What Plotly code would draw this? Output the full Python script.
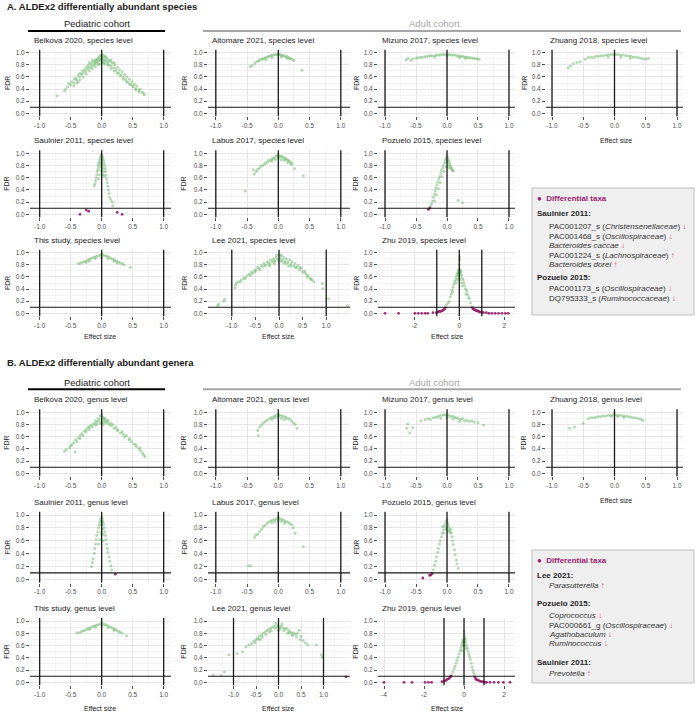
import plotly.graph_objects as go

W, H = 696, 712
FONT = "Liberation Sans, Arial, sans-serif"
GREEN = "rgba(120,190,120,0.55)"
PURPLE = "rgba(150,25,105,0.9)"
PURPLE_TXT = "#9c2170"
ARROW = "#d04a6a"

# ---------------- data: (effect size, FDR) ----------------
BELKOVA_SP = [(-0.72,0.29),(-0.60,0.37),(-0.58,0.40),(-0.55,0.44),(-0.53,0.49),(-0.50,0.47),(-0.48,0.52),(-0.45,0.50),
    (-0.44,0.56),(-0.42,0.58),(-0.40,0.55),(-0.38,0.63),(-0.36,0.60),(-0.35,0.66),(-0.33,0.64),(-0.31,0.70),(-0.30,0.66),
    (-0.28,0.72),(-0.26,0.69),(-0.25,0.76),(-0.23,0.73),(-0.22,0.79),(-0.20,0.75),(-0.18,0.81),(-0.17,0.77),(-0.15,0.84),
    (-0.14,0.79),(-0.12,0.86),(-0.11,0.81),(-0.10,0.88),(-0.08,0.83),(-0.07,0.90),(-0.06,0.85),(-0.05,0.92),(-0.04,0.81),
    (-0.03,0.94),(-0.02,0.87),(-0.01,0.96),(0.00,0.83),(0.01,0.97),(0.02,0.89),(0.03,0.93),(0.04,0.84),(0.05,0.95),
    (0.06,0.87),(0.08,0.91),(0.09,0.83),(0.11,0.88),(0.12,0.80),(0.14,0.86),(0.15,0.78),(0.17,0.83),(0.19,0.75),(0.21,0.80),
    (0.23,0.71),(0.25,0.76),(0.27,0.67),(0.29,0.72),(0.31,0.63),(0.33,0.68),(0.35,0.59),(0.37,0.64),(0.39,0.55),(0.41,0.60),
    (0.43,0.51),(0.45,0.56),(0.47,0.47),(0.49,0.52),(0.51,0.44),(0.53,0.48),(0.55,0.41),(0.57,0.45),(0.60,0.38),(0.62,0.40),
    (0.65,0.35),(0.67,0.33),(0.69,0.31),(-0.05,0.88),(0.05,0.88),(-0.1,0.84),(0.1,0.85),(0.0,0.90),
    (-0.45,0.45),(-0.40,0.50),(-0.35,0.55),(-0.30,0.60),(-0.25,0.65),(-0.20,0.70),(-0.15,0.74),(-0.10,0.77),(-0.05,0.80),
    (0.05,0.81),(0.10,0.79),(0.15,0.74),(0.20,0.70),(0.25,0.66),(0.30,0.62),(0.35,0.56),(0.40,0.52),(0.45,0.48),
    (0.50,0.45),(0.55,0.39),(0.60,0.35),(-0.38,0.52),(-0.20,0.84),(-0.15,0.88),(0.15,0.88),(0.20,0.84),(0.00,0.94),
    (-0.02,0.90),(0.02,0.85),(0.07,0.93),(-0.08,0.87)]
ALTOMARE_SP = [(-0.45,0.77),(-0.42,0.79),(-0.38,0.82),(-0.35,0.85),(-0.32,0.86),(-0.30,0.88),(-0.27,0.89),(-0.25,0.90),
    (-0.22,0.91),(-0.20,0.92),(-0.17,0.93),(-0.15,0.94),(-0.12,0.95),(-0.10,0.96),(-0.07,0.96),(-0.05,0.97),(-0.02,0.97),
    (0.00,0.97),(0.02,0.97),(0.04,0.96),(0.06,0.95),(0.08,0.96),(0.10,0.94),(0.12,0.93),(0.14,0.94),(0.16,0.92),(0.18,0.91),
    (0.20,0.90),(0.22,0.89),(0.25,0.87),(0.38,0.71),(-0.10,0.92),(0.05,0.93),(-0.20,0.88),(0.15,0.90)]
MIZUNO_SP = [(-0.66,0.88),(-0.63,0.91),(-0.58,0.87),(-0.55,0.90),(-0.50,0.91),(-0.47,0.92),(-0.43,0.92),(-0.40,0.93),
    (-0.36,0.93),(-0.33,0.94),(-0.30,0.94),(-0.27,0.95),(-0.24,0.95),(-0.20,0.95),(-0.17,0.96),(-0.14,0.96),(-0.11,0.96),
    (-0.08,0.97),(-0.05,0.97),(-0.02,0.97),(0.01,0.97),(0.04,0.97),(0.07,0.96),(0.10,0.96),(0.13,0.96),(0.16,0.95),
    (0.19,0.95),(0.22,0.94),(0.25,0.94),(0.28,0.93),(0.31,0.93),(0.34,0.92),(0.37,0.92),(0.40,0.91),(0.43,0.91),(0.46,0.90),
    (0.49,0.90),(0.52,0.89),(-0.20,0.93),(0.00,0.94),(0.20,0.92),(0.30,0.91)]
ZHUANG_SP = [(-0.74,0.75),(-0.70,0.78),(-0.66,0.82),(-0.60,0.84),(-0.55,0.85),(-0.47,0.89),(-0.42,0.92),(-0.38,0.93),
    (-0.34,0.92),(-0.30,0.94),(-0.26,0.94),(-0.22,0.95),(-0.18,0.95),(-0.14,0.96),(-0.10,0.96),(-0.06,0.97),(-0.02,0.97),
    (0.02,0.97),(0.06,0.97),(0.10,0.96),(0.14,0.96),(0.18,0.95),(0.22,0.95),(0.26,0.94),(0.30,0.93),(0.34,0.93),(0.38,0.92),
    (0.42,0.91),(0.46,0.90),(0.50,0.89),(0.54,0.91),(-0.10,0.93),(0.10,0.93),(0.25,0.91)]
SAULNIER_SP = [(-0.12,0.47),(-0.11,0.50),(-0.10,0.55),(-0.09,0.60),(-0.08,0.65),(-0.07,0.70),(-0.06,0.74),(-0.06,0.79),
    (-0.05,0.83),(-0.04,0.86),(-0.03,0.90),(-0.02,0.93),(-0.01,0.96),(0.00,0.98),(0.01,0.95),(0.02,0.92),(0.03,0.88),
    (0.04,0.84),(0.05,0.80),(0.06,0.75),(0.06,0.70),(0.07,0.64),(0.08,0.58),(0.09,0.52),(0.10,0.46),(0.11,0.40),(0.12,0.34),
    (0.13,0.28),(0.15,0.24),(0.17,0.20),(0.18,0.14),(0.00,0.85),(0.01,0.80),(0.02,0.75),(-0.02,0.82),(0.03,0.70),(-0.03,0.77),
    (0.00,0.90),(-0.01,0.72),(0.02,0.65),(-0.04,0.65),(-0.05,0.58),(0.04,0.62)]
SAULNIER_SP_DIFF = [(-0.35,0.00),(-0.25,0.07),(-0.21,0.05),(0.25,0.03),(0.33,0.00)]
LABUS_SP = [(-0.53,0.38),(-0.40,0.73),(-0.38,0.66),(-0.35,0.70),(-0.33,0.74),(-0.30,0.76),(-0.28,0.79),(-0.25,0.80),
    (-0.22,0.83),(-0.20,0.84),(-0.17,0.86),(-0.15,0.88),(-0.12,0.89),(-0.10,0.91),(-0.08,0.92),(-0.05,0.94),(-0.03,0.96),
    (0.00,0.97),(0.02,0.96),(0.04,0.94),(0.06,0.95),(0.08,0.93),(0.10,0.92),(0.12,0.91),(0.14,0.90),(0.16,0.88),(0.18,0.87),
    (0.20,0.85),(0.22,0.83),(0.26,0.75),(0.40,0.63),(-0.05,0.90),(0.05,0.89),(0.00,0.92),(0.10,0.88),(-0.10,0.87),
    (0.15,0.85),(0.20,0.82)]
POZUELO_SP = [(-0.27,0.13),(-0.25,0.17),(-0.23,0.22),(-0.22,0.28),(-0.20,0.33),(-0.19,0.38),(-0.18,0.43),(-0.16,0.48),
    (-0.15,0.53),(-0.13,0.58),(-0.12,0.62),(-0.10,0.67),(-0.09,0.72),(-0.07,0.76),(-0.06,0.80),(-0.04,0.84),(-0.03,0.88),
    (-0.02,0.92),(0.00,0.96),(0.01,0.93),(0.02,0.90),(0.03,0.87),(0.04,0.84),(0.05,0.81),(0.06,0.78),(0.07,0.76),(0.08,0.74),
    (0.09,0.72),(0.10,0.71),(-0.05,0.70),(-0.08,0.62),(-0.11,0.52),(-0.14,0.42),(-0.17,0.32),(-0.20,0.22),(0.00,0.85),
    (0.02,0.80),(0.04,0.76),(-0.01,0.78),(0.18,0.23),(0.25,0.19)]
POZUELO_SP_DIFF = [(-0.30,0.08),(-0.28,0.10)]
THIS_SP = [(-0.38,0.82),(-0.35,0.82),(-0.32,0.84),(-0.29,0.85),(-0.26,0.86),(-0.23,0.88),(-0.20,0.89),(-0.17,0.91),
    (-0.14,0.92),(-0.11,0.93),(-0.08,0.94),(-0.05,0.95),(-0.02,0.96),(0.00,0.97),(0.03,0.96),(0.06,0.95),(0.09,0.94),
    (0.12,0.92),(0.15,0.91),(0.18,0.89),(0.21,0.88),(0.24,0.86),(0.27,0.85),(0.30,0.83),(0.33,0.82),(0.36,0.80),(0.46,0.76),
    (-0.20,0.86),(-0.10,0.90),(0.00,0.92),(0.10,0.90),(0.20,0.86),(0.25,0.83),(-0.25,0.84)]
LEE_SP = [(-1.30,0.13),(-1.28,0.15),(-1.17,0.20),(-1.15,0.23),(-0.93,0.42),(-0.92,0.47),(-0.90,0.50),(-0.86,0.52),
    (-0.80,0.55),(-0.75,0.58),(-0.70,0.60),(-0.66,0.63),(-0.62,0.65),(-0.58,0.68),(-0.55,0.66),(-0.52,0.71),(-0.48,0.72),
    (-0.45,0.76),(-0.42,0.74),(-0.38,0.79),(-0.35,0.77),(-0.32,0.82),(-0.28,0.80),(-0.25,0.85),(-0.22,0.83),(-0.18,0.88),
    (-0.15,0.85),(-0.12,0.90),(-0.09,0.87),(-0.06,0.93),(-0.03,0.89),(0.00,0.97),(0.02,0.90),(0.04,0.94),(0.07,0.88),
    (0.10,0.92),(0.13,0.86),(0.16,0.90),(0.19,0.84),(0.22,0.88),(0.25,0.81),(0.28,0.85),(0.31,0.78),(0.34,0.82),(0.37,0.75),
    (0.40,0.79),(0.43,0.72),(0.47,0.74),(0.50,0.68),(0.54,0.70),(0.58,0.64),(0.62,0.62),(0.66,0.58),(0.70,0.55),(0.74,0.52),
    (0.92,0.49),(0.93,0.41),(1.05,0.24),(1.45,0.13),(-0.10,0.82),(0.10,0.83),(0.00,0.86),(-0.20,0.78),(0.20,0.78),
    (-0.60,0.62),(-0.50,0.69),(-0.40,0.72),(-0.30,0.78),(-0.20,0.81),(-0.10,0.86),(0.05,0.86),(0.15,0.82),(0.25,0.78),
    (0.35,0.76),(0.45,0.76),(0.55,0.67),(0.60,0.60),(0.68,0.56),(-0.05,0.96),(0.05,0.96),(-0.82,0.52),(-0.72,0.57)]
ZHU_SP = [(-0.56,0.14),(-0.50,0.17),(-0.44,0.20),(-0.40,0.27),(-0.36,0.32),(-0.32,0.38),(-0.28,0.43),(-0.24,0.48),
    (-0.20,0.53),(-0.16,0.58),(-0.12,0.62),(-0.08,0.66),(-0.05,0.70),(-0.02,0.72),(0.00,0.80),(0.01,0.88),(0.02,0.93),
    (0.04,0.72),(0.07,0.68),(0.10,0.63),(0.13,0.58),(0.17,0.55),(0.20,0.50),(0.24,0.45),(0.28,0.40),(0.33,0.37),(0.37,0.31),
    (0.41,0.26),(0.45,0.24),(0.50,0.17),(0.55,0.11),(-0.05,0.62),(0.00,0.66),(0.05,0.64),(-0.02,0.58),(0.03,0.55),
    (-0.10,0.55),(0.10,0.50),(-0.03,0.66),(0.03,0.68),(0.00,0.72),(-0.06,0.66),(0.06,0.70),(-0.15,0.50),(0.15,0.45),
    (-0.30,0.35),(0.30,0.32)]
ZHU_SP_DIFF = [(-3.30,0.00),(-2.70,0.00),(-1.97,0.00),(-1.82,0.00),(-1.67,0.00),(-1.52,0.00),(-1.40,0.00),(-1.17,0.01),
    (-1.02,0.01),(-0.96,0.02),(-0.90,0.03),(-0.84,0.03),(-0.78,0.04),(-0.72,0.05),(-0.66,0.07),(-0.62,0.09),(0.58,0.09),
    (0.62,0.07),(0.67,0.06),(0.72,0.05),(0.77,0.04),(0.82,0.04),(0.87,0.03),(0.92,0.02),(1.00,0.02),(1.07,0.01),(1.20,0.01),
    (1.32,0.00),(1.45,0.00),(1.60,0.00),(1.75,0.00),(1.90,0.00),(2.05,0.00),(2.18,0.00)]

BELKOVA_GE = [(-0.60,0.36),(-0.57,0.39),(-0.52,0.42),(-0.48,0.47),(-0.45,0.50),(-0.43,0.35),(-0.42,0.55),(-0.38,0.58),
    (-0.35,0.62),(-0.32,0.65),(-0.30,0.62),(-0.28,0.69),(-0.25,0.72),(-0.22,0.75),(-0.20,0.72),(-0.18,0.78),(-0.15,0.80),
    (-0.12,0.82),(-0.10,0.79),(-0.08,0.84),(-0.05,0.86),(-0.03,0.82),(0.00,0.96),(0.00,0.88),(0.02,0.92),(0.03,0.84),
    (0.05,0.86),(0.07,0.82),(0.10,0.84),(0.12,0.80),(0.15,0.78),(0.18,0.80),(0.20,0.74),(0.23,0.76),(0.26,0.70),(0.30,0.66),
    (0.33,0.68),(0.37,0.60),(0.40,0.62),(0.44,0.55),(0.48,0.52),(0.52,0.48),(0.56,0.44),(0.60,0.40),(0.63,0.37),(0.66,0.33),
    (0.68,0.30),(0.70,0.27),(-0.05,0.90),(0.05,0.90),(-0.10,0.86),(0.10,0.87),
    (-0.50,0.45),(-0.40,0.52),(-0.35,0.57),(-0.25,0.68),(-0.20,0.76),(-0.15,0.76),(-0.08,0.80),(0.00,0.82),(0.08,0.86),
    (0.15,0.82),(0.25,0.72),(0.35,0.64),(0.45,0.57),(0.55,0.47),(0.62,0.42),(0.02,0.80),(-0.02,0.94),(0.04,0.90)]
ALTOMARE_GE = [(-0.33,0.70),(-0.32,0.62),(-0.30,0.76),(-0.27,0.79),(-0.24,0.82),(-0.21,0.85),(-0.18,0.87),(-0.15,0.89),
    (-0.12,0.91),(-0.09,0.92),(-0.06,0.94),(-0.03,0.95),(0.00,0.97),(0.03,0.95),(0.06,0.94),(0.09,0.93),(0.12,0.92),
    (0.15,0.90),(0.18,0.89),(0.21,0.86),(0.24,0.83),(0.27,0.80),(0.30,0.74),(-0.05,0.91),(0.05,0.90),(0.00,0.93),
    (0.10,0.88),(-0.10,0.88)]
MIZUNO_GE = [(-0.65,0.74),(-0.63,0.81),(-0.60,0.66),(-0.55,0.75),(-0.42,0.86),(-0.35,0.88),(-0.30,0.90),(-0.27,0.88),
    (-0.22,0.91),(-0.18,0.92),(-0.15,0.93),(-0.12,0.94),(-0.08,0.95),(-0.05,0.96),(-0.02,0.95),(0.00,0.96),(0.03,0.95),
    (0.06,0.93),(0.09,0.94),(0.12,0.92),(0.15,0.91),(0.18,0.90),(0.22,0.88),(0.25,0.90),(0.28,0.86),(0.32,0.87),(0.36,0.85),
    (0.40,0.86),(0.44,0.84),(0.50,0.83),(0.59,0.79),(-0.10,0.90),(0.00,0.91),(0.10,0.89),(0.20,0.85)]
ZHUANG_GE = [(-0.72,0.74),(-0.64,0.76),(-0.50,0.82),(-0.42,0.90),(-0.38,0.91),(-0.34,0.91),(-0.30,0.92),(-0.26,0.93),
    (-0.22,0.93),(-0.18,0.94),(-0.14,0.94),(-0.10,0.95),(-0.06,0.95),(-0.02,0.96),(0.02,0.96),(0.06,0.95),(0.10,0.95),
    (0.14,0.94),(0.18,0.94),(0.22,0.93),(0.26,0.92),(0.30,0.91),(0.34,0.91),(0.38,0.90),(0.42,0.89),(0.45,0.87),
    (-0.05,0.93),(0.05,0.93),(0.15,0.92)]
SAULNIER_GE = [(-0.16,0.20),(-0.15,0.26),(-0.14,0.32),(-0.12,0.40),(-0.11,0.48),(-0.10,0.55),(-0.09,0.62),(-0.08,0.68),
    (-0.06,0.74),(-0.05,0.80),(-0.04,0.85),(-0.03,0.89),(-0.02,0.93),(0.00,0.97),(0.01,0.94),(0.02,0.90),(0.03,0.86),
    (0.04,0.80),(0.05,0.74),(0.06,0.68),(0.07,0.62),(0.08,0.55),(0.09,0.48),(0.10,0.42),(0.12,0.35),(0.13,0.28),(0.15,0.21),
    (0.16,0.15),(0.00,0.85),(0.01,0.78),(-0.01,0.72),(0.02,0.70),(-0.03,0.62),(0.03,0.60),(-0.05,0.55),(0.00,0.90)]
SAULNIER_GE_DIFF = [(0.22,0.08)]
LABUS_GE = [(-0.48,0.21),(-0.44,0.21),(-0.38,0.65),(-0.36,0.69),(-0.33,0.70),(-0.30,0.74),(-0.27,0.78),(-0.24,0.82),
    (-0.21,0.84),(-0.18,0.87),(-0.15,0.89),(-0.12,0.91),(-0.09,0.92),(-0.06,0.93),(-0.03,0.94),(0.00,0.97),(0.03,0.94),
    (0.06,0.93),(0.09,0.92),(0.12,0.90),(0.15,0.89),(0.18,0.87),(0.21,0.85),(0.24,0.80),(0.27,0.72),(0.40,0.51),
    (-0.05,0.89),(0.05,0.90),(0.00,0.91),(0.10,0.87),(-0.10,0.88)]
POZUELO_GE = [(-0.22,0.15),(-0.20,0.22),(-0.18,0.28),(-0.17,0.35),(-0.15,0.42),(-0.14,0.48),(-0.12,0.55),(-0.11,0.60),
    (-0.09,0.66),(-0.08,0.72),(-0.06,0.77),(-0.04,0.82),(-0.03,0.86),(-0.01,0.90),(0.00,0.93),(0.01,0.88),(0.02,0.84),
    (0.03,0.80),(0.04,0.76),(0.05,0.73),(0.06,0.78),(0.07,0.72),(0.08,0.66),(0.09,0.60),(0.10,0.54),(0.12,0.46),(0.13,0.38),
    (0.15,0.30),(0.16,0.24),(0.18,0.17),(-0.05,0.72),(-0.02,0.78),(0.00,0.80),(0.02,0.75),(-0.07,0.82)]
POZUELO_GE_DIFF = [(-0.39,0.02),(-0.28,0.06),(-0.26,0.07),(-0.24,0.09)]
THIS_GE = [(-0.40,0.81),(-0.36,0.81),(-0.33,0.83),(-0.30,0.84),(-0.27,0.85),(-0.24,0.87),(-0.21,0.88),(-0.18,0.89),
    (-0.15,0.91),(-0.12,0.92),(-0.09,0.93),(-0.06,0.94),(-0.03,0.95),(0.00,0.97),(0.03,0.95),(0.06,0.94),(0.09,0.93),
    (0.12,0.91),(0.15,0.90),(0.18,0.88),(0.21,0.87),(0.24,0.85),(0.27,0.83),(0.30,0.82),(0.33,0.80),(0.40,0.76),
    (-0.10,0.90),(0.00,0.92),(0.10,0.89),(0.20,0.85),(-0.20,0.86)]
LEE_GE = [(-1.45,0.12),(-1.28,0.11),(-1.20,0.17),(-1.10,0.45),(-0.92,0.47),(-0.80,0.50),(-0.72,0.58),(-0.66,0.61),
    (-0.60,0.63),(-0.55,0.67),(-0.50,0.70),(-0.46,0.72),(-0.42,0.75),(-0.38,0.77),(-0.34,0.80),(-0.30,0.82),(-0.26,0.84),
    (-0.22,0.86),(-0.18,0.88),(-0.14,0.90),(-0.10,0.92),(-0.06,0.96),(-0.02,0.93),(0.02,0.90),(0.06,0.92),(0.10,0.89),
    (0.14,0.87),(0.18,0.88),(0.22,0.85),(0.26,0.83),(0.30,0.80),(0.34,0.81),(0.38,0.78),(0.42,0.80),(0.46,0.85),(0.50,0.75),
    (0.55,0.68),(0.60,0.64),(0.65,0.61),(0.84,0.61),(0.95,0.45),(0.97,0.41),(-0.20,0.82),(0.00,0.85),(0.20,0.80),
    (-0.40,0.70),(0.30,0.76),(-0.52,0.65),(-0.44,0.70),(-0.36,0.74),(-0.28,0.78),(-0.16,0.84),(-0.08,0.88),(0.04,0.87),
    (0.12,0.84),(0.24,0.81),(0.32,0.78),(0.40,0.74),(0.48,0.70),(-0.04,0.90),(0.08,0.95)]
LEE_GE_DIFF = [(1.50,0.09)]
ZHU_GE = [(-0.62,0.12),(-0.56,0.17),(-0.50,0.22),(-0.45,0.26),(-0.40,0.31),(-0.35,0.36),(-0.30,0.41),(-0.25,0.46),
    (-0.20,0.51),(-0.16,0.56),(-0.12,0.60),(-0.08,0.64),(-0.04,0.68),(0.00,0.83),(0.00,0.74),(0.02,0.78),(0.04,0.70),
    (0.08,0.66),(0.12,0.61),(0.16,0.56),(0.20,0.51),(0.24,0.46),(0.28,0.42),(0.32,0.37),(0.36,0.31),(0.40,0.25),(0.44,0.20),
    (0.48,0.16),(0.52,0.12),(-0.05,0.60),(0.05,0.60),(0.00,0.64),(-0.10,0.52),(0.10,0.55),(-0.02,0.70),(0.03,0.66),
    (-0.06,0.66),(0.06,0.72)]
ZHU_GE_DIFF = [(-4.00,0.00),(-3.00,0.00),(-2.60,0.00),(-1.95,0.00),(-1.78,0.00),(-1.62,0.00),(-1.10,0.01),(-0.98,0.02),
    (-0.90,0.03),(-0.83,0.05),(-0.76,0.06),(-0.70,0.08),(-0.66,0.10),(0.55,0.08),(0.60,0.05),(0.66,0.04),(0.72,0.03),
    (0.80,0.02),(0.88,0.01),(0.97,0.01),(1.05,0.00),(1.13,0.00),(1.30,0.00),(1.50,0.00),(1.72,0.00),(1.97,0.00),(2.30,0.00)]

TITLES_A = ["Belkova 2020, species level", "Altomare 2021, species level", "Mizuno 2017, species level",
            "Zhuang 2018, species level", "Saulnier 2011, species level", "Labus 2017, species level",
            "Pozuelo 2015, species level", "This study, species level", "Lee 2021, species level",
            "Zhu 2019, species level"]
TITLES_B = [t.replace("species level", "genus level") for t in TITLES_A]

X_TICKS = [-1, -0.5, 0, 0.5, 1]
X_TICKTEXT = ["-1.0", "-0.5", "0.0", "0.5", "1.0"]
ZHU_SP_TICKS = [-2, 0, 2]
ZHU_GE_TICKS = [-4, -2, 0, 2]
Y_TICKS = [0, 0.2, 0.4, 0.6, 0.8, 1.0]
Y_TICKTEXT = ["0.0", "0.2", "0.4", "0.6", "0.8", "1.0"]
VLINES = [-1, 0, 1]
FDR_CUTOFF = 0.1

LEGEND_A = [
    ("Saulnier 2011:", [("PAC001207_s", "Christensenellaceae", "↓"), ("PAC001468_s", "Oscillospiraceae", "↓"),
                        ("", "Bacteroides caccae", "↓"), ("PAC001224_s", "Lachnospiraceae", "↑"),
                        ("", "Bacteroides dorei", "↑")]),
    ("Pozuelo 2015:", [("PAC001173_s", "Oscillospiraceae", "↓"), ("DQ795333_s", "Ruminococcaceae", "↓")]),
]
LEGEND_B = [
    ("Lee 2021:", [("", "Parasutterella", "↑")]),
    ("Pozuelo 2015:", [("", "Coprococcus", "↓"), ("PAC000661_g", "Oscillospiraceae", "↓"),
                       ("", "Agathobaculum", "↓"), ("", "Ruminococcus", "↓")]),
    ("Saulnier 2011:", [("", "Prevotella", "↑")]),
]

# ---------------- layout geometry (pixels) ----------------
COL_DOM = [(30, 171), (208, 350), (378, 515), (546, 683)]
ROW_Y = [(52.7, 113.3), (153.3, 214.3), (252.7, 313.3), (412.3, 473.3), (515.0, 579.3), (621.0, 682.3)]
STD_RANGE = [(-1.156, 1.118), (-1.125, 1.147), (-1.113, 1.097), (-1.096, 1.096)]

SLOTS = [(0, 0), (0, 1), (0, 2), (0, 3), (1, 0), (1, 1), (1, 2), (2, 0), (2, 1), (2, 2)]
DATA_A = [(BELKOVA_SP, []), (ALTOMARE_SP, []), (MIZUNO_SP, []), (ZHUANG_SP, []), (SAULNIER_SP, SAULNIER_SP_DIFF),
          (LABUS_SP, []), (POZUELO_SP, POZUELO_SP_DIFF), (THIS_SP, []), (LEE_SP, []), (ZHU_SP, ZHU_SP_DIFF)]
DATA_B = [(BELKOVA_GE, []), (ALTOMARE_GE, []), (MIZUNO_GE, []), (ZHUANG_GE, []), (SAULNIER_GE, SAULNIER_GE_DIFF),
          (LABUS_GE, []), (POZUELO_GE, POZUELO_GE_DIFF), (THIS_GE, []), (LEE_GE, LEE_GE_DIFF), (ZHU_GE, ZHU_GE_DIFF)]


def px(x):
    return x / W


def py(y):
    return 1 - y / H


fig = go.Figure()
layout = {}
shapes = []
annotations = []


def ann(text, x, y, size, color="#1a1a1a", xanchor="left", angle=0, bold=False):
    annotations.append(dict(text=("<b>%s</b>" % text) if bold else text, x=px(x), y=py(y), xref="paper",
                            yref="paper", xanchor=xanchor, yanchor="middle", showarrow=False, textangle=angle,
                            font=dict(family=FONT, size=size, color=color)))


panel_no = 0
for sec, (titles, data) in enumerate([(TITLES_A, DATA_A), (TITLES_B, DATA_B)]):
    for k in range(10):
        panel_no += 1
        n = panel_no
        r, c = SLOTS[k]
        row = sec * 3 + r
        y1px, y0px = ROW_Y[row]
        s = y0px - y1px
        top, bot = y1px - 0.05 * s, y0px + 0.05 * s
        xr = STD_RANGE[c]
        ticks, ticktext = X_TICKS, X_TICKTEXT
        minor = [-1.25, -0.75, -0.25, 0.25, 0.75, 1.25]
        if k == 8:
            xr = (-1.504, 1.504) if sec == 0 else (-1.567, 1.589)
        if k == 9:
            xr = (-3.613, 2.476) if sec == 0 else (-4.3, 2.55)
            ticks = ZHU_SP_TICKS if sec == 0 else ZHU_GE_TICKS
            ticktext = [str(t) for t in ticks]
            minor = [-5, -3, -1, 1, 3]
        xa, ya = ("x", "y") if n == 1 else ("x%d" % n, "y%d" % n)
        green, purple = data[k]
        fig.add_trace(go.Scatter(x=[p[0] for p in green], y=[p[1] for p in green], xaxis=xa, yaxis=ya,
                                 mode="markers", marker=dict(size=3.0, color=GREEN), hoverinfo="skip",
                                 showlegend=False))
        if purple:
            fig.add_trace(go.Scatter(x=[p[0] for p in purple], y=[p[1] for p in purple], xaxis=xa, yaxis=ya,
                                     mode="markers", marker=dict(size=2.8, color=PURPLE), hoverinfo="skip",
                                     showlegend=False))
        common = dict(showline=False, zeroline=False, showgrid=True, gridcolor="#e6e6e6", gridwidth=0.7,
                      ticks="outside", ticklen=3, tickwidth=0.8, tickcolor="#4d4d4d",
                      tickfont=dict(family=FONT, size=6.5, color="#4d4d4d"), fixedrange=True)
        layout["xaxis" + ("" if n == 1 else str(n))] = dict(
            domain=[px(COL_DOM[c][0]), px(COL_DOM[c][1])], range=list(xr), anchor=ya, tickmode="array",
            tickvals=ticks, ticktext=ticktext,
            minor=dict(tickvals=minor, showgrid=True, gridcolor="#f3f3f3", gridwidth=0.6, ticks=""), **common)
        layout["yaxis" + ("" if n == 1 else str(n))] = dict(
            domain=[py(bot), py(top)], range=[-0.05, 1.05], anchor=xa, tickmode="array", tickvals=Y_TICKS,
            ticktext=Y_TICKTEXT,
            minor=dict(tickvals=[0.1, 0.3, 0.5, 0.7, 0.9], showgrid=True, gridcolor="#f3f3f3", gridwidth=0.6,
                       ticks=""), **common)
        for v in VLINES:
            shapes.append(dict(type="line", xref=xa, yref=ya + " domain", x0=v, x1=v, y0=0, y1=1,
                               line=dict(color="#1a1a1a", width=1.3)))
        shapes.append(dict(type="line", xref=xa + " domain", yref=ya, x0=0, x1=1, y0=FDR_CUTOFF, y1=FDR_CUTOFF,
                           line=dict(color="#1a1a1a", width=1.1)))
        # panel title and FDR label
        ann(titles[k], COL_DOM[c][0] + 2, y1px - 12.5, 8)
        ann("FDR", [7, 184, 356, 524][c], (y1px + y0px) / 2, 7, angle=-90, xanchor="center")

# Effect size labels
for sec, (yb, y4) in enumerate([(336, 140.5), (708, 500)]):
    for cx in (100, 278, 447):
        ann("Effect size", cx, yb, 7, xanchor="center")
    ann("Effect size", 616, y4, 7, xanchor="center")

# section titles and cohort headers
ann("A. ALDEx2 differentially abundant species", 5, 7, 9.5, bold=True)
ann("B. ALDEx2 differentially abundant genera", 5, 362, 9.5, bold=True)
for ty, ly in [(24, 31), (382.5, 389.3)]:
    ann("Pediatric cohort", 97, ty, 9.5, xanchor="center")
    ann("Adult cohort", 434, ty, 9.5, color="#a6a6a6", xanchor="center")
    shapes.append(dict(type="line", xref="paper", yref="paper", x0=px(28), x1=px(165), y0=py(ly), y1=py(ly),
                       line=dict(color="#000000", width=2)))
    shapes.append(dict(type="line", xref="paper", yref="paper", x0=px(203), x1=px(681), y0=py(ly), y1=py(ly),
                       line=dict(color="#a6a6a6", width=2)))


def legend_box(entries, box, y_head, y_groups):
    x0, y0, x1, y1 = box
    shapes.append(dict(type="rect", xref="paper", yref="paper", x0=px(x0), x1=px(x1), y0=py(y1), y1=py(y0),
                       fillcolor="#efefef", line=dict(color="#bdbdbd", width=1), layer="below"))
    ann("<span style='color:%s'>●</span>  <b>Differential taxa</b>" % PURPLE_TXT, 535, y_head, 8,
        color=PURPLE_TXT)
    for (study, items), (gy, iys) in zip(entries, y_groups):
        ann(study, 535, gy, 8, color="#262626", bold=True)
        for (plain, fam, arrow), iy in zip(items, iys):
            label = ("%s (<i>%s</i>)" % (plain, fam)) if plain else ("<i>%s</i>" % fam)
            ann("%s <span style='color:%s'>%s</span>" % (label, ARROW, arrow), 547, iy, 8, color="#333333")


legend_box(LEGEND_A, (532, 188, 694, 315), 198.3,
           [(213.5, [226.7, 236.3, 245.8, 255.3, 264.8]), (277, [288.7, 298.3])])
legend_box(LEGEND_B, (532, 550, 694, 683), 560,
           [(575, [585]), (603.3, [615, 625, 634.3, 643.7]), (662.7, [673.3])])

fig.update_layout(width=W, height=H, margin=dict(l=0, r=0, t=0, b=0), plot_bgcolor="white",
                  paper_bgcolor="white", showlegend=False, shapes=shapes, annotations=annotations, **layout)
fig.write_html("out.html", config={"displayModeBar": False},
               post_script="document.body.style.margin='0';document.body.style.overflow='hidden';")
